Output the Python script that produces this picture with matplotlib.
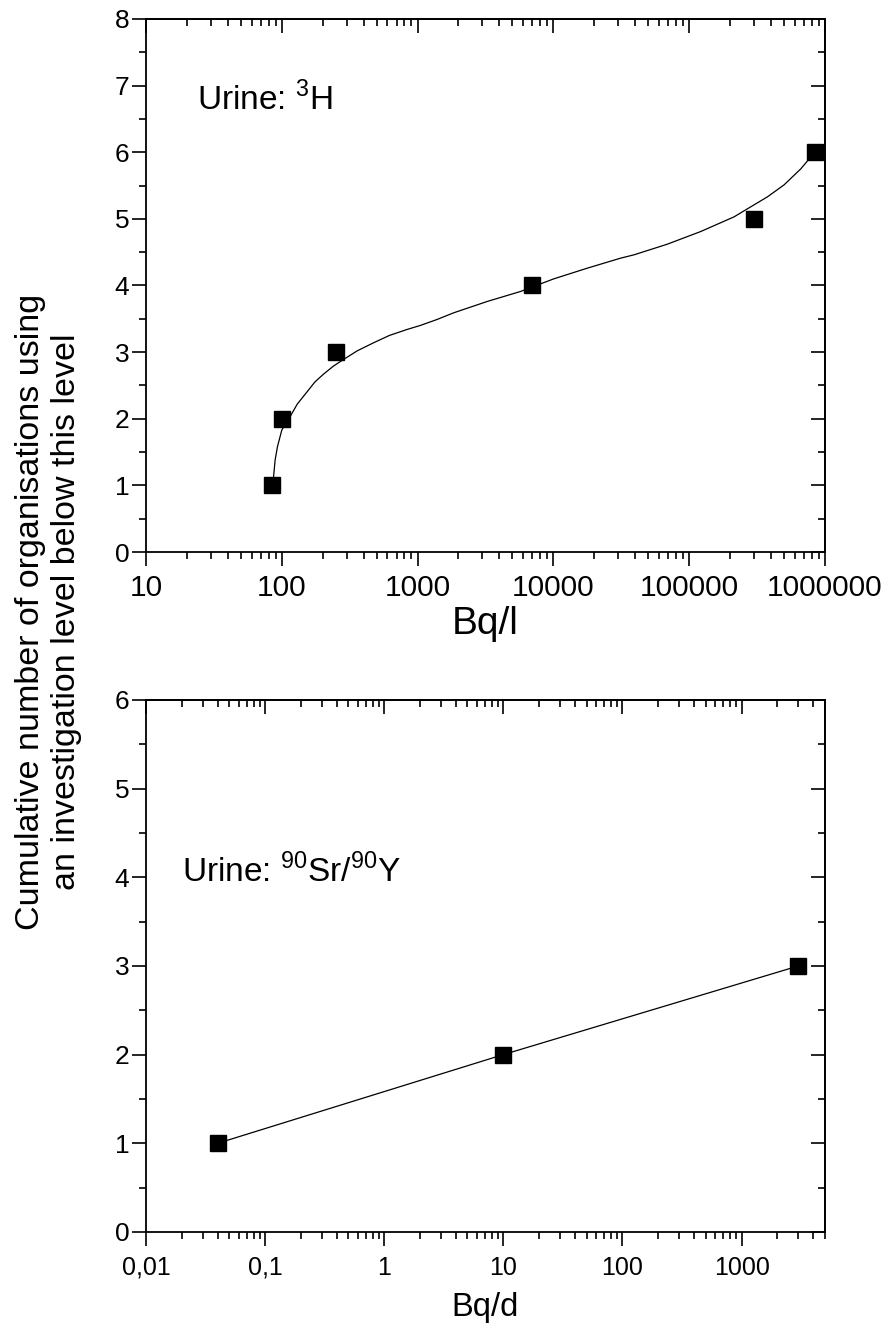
import matplotlib
matplotlib.use("Agg")
import matplotlib.pyplot as plt
from matplotlib.ticker import LogLocator, MultipleLocator, FuncFormatter, NullFormatter

plt.rcParams['font.family'] = ['Liberation Sans', 'DejaVu Sans']
plt.rcParams['mathtext.fontset'] = 'custom'
plt.rcParams['mathtext.rm'] = 'Liberation Sans'

# top panel: urine 3H
h3_x = [85, 100, 250, 7000, 300000, 850000]
h3_y = [1, 2, 3, 4, 5, 6]
# fitted curve
h3_fit_x = [85, 87, 89.3, 92.9, 100, 115, 130, 153, 175, 203, 240, 285, 360,
            474, 620, 837, 1047, 1393, 1845, 3258, 5730, 10090, 17800, 31300,
            39260, 69200, 121900, 214500, 284400, 377600, 501000, 665000,
            774000, 850000]
h3_fit_y = [1.0, 1.13, 1.38, 1.58, 1.83, 2.03, 2.22, 2.40, 2.55, 2.67, 2.79,
            2.89, 3.02, 3.14, 3.25, 3.34, 3.40, 3.49, 3.59, 3.76, 3.91, 4.10,
            4.26, 4.41, 4.46, 4.62, 4.81, 5.03, 5.18, 5.33, 5.51, 5.75, 5.91,
            6.0]

# bottom panel: urine 90Sr/90Y
sr_x = [0.04, 10, 3000]
sr_y = [1, 2, 3]


def style_axes(ax, xlim, ylim, fmt, xsize, ysize, xpad):
    ax.set_xscale('log')
    ax.set_xlim(*xlim)
    ax.set_ylim(*ylim)
    ax.xaxis.set_major_locator(LogLocator(base=10, numticks=20))
    ax.xaxis.set_minor_locator(LogLocator(base=10, subs=range(2, 10), numticks=100))
    ax.xaxis.set_major_formatter(FuncFormatter(fmt))
    ax.xaxis.set_minor_formatter(NullFormatter())
    ax.yaxis.set_major_locator(MultipleLocator(1))
    ax.yaxis.set_minor_locator(MultipleLocator(0.5))
    for s in ax.spines.values():
        s.set_linewidth(1.3)
    ax.tick_params(which='both', direction='out', top=False, right=False, width=1.2)
    ax.tick_params(which='major', length=10)
    ax.tick_params(which='minor', length=5)
    ax.tick_params(axis='x', labelsize=xsize, pad=xpad)
    ax.tick_params(axis='y', labelsize=ysize, pad=2)

    # mirrored ticks point inward
    top = ax.secondary_xaxis('top')
    top.xaxis.set_major_locator(LogLocator(base=10, numticks=20))
    top.xaxis.set_minor_locator(LogLocator(base=10, subs=range(2, 10), numticks=100))
    top.tick_params(which='both', direction='in', labeltop=False, width=1.2)
    top.tick_params(which='major', length=10)
    top.tick_params(which='minor', length=5)
    top.spines['top'].set_linewidth(1.3)
    right = ax.secondary_yaxis('right')
    right.yaxis.set_major_locator(MultipleLocator(1))
    right.yaxis.set_minor_locator(MultipleLocator(0.5))
    right.tick_params(which='both', direction='in', labelright=False, width=1.2)
    right.tick_params(which='major', length=10)
    right.tick_params(which='minor', length=5)
    right.spines['right'].set_linewidth(1.3)


fig = plt.figure(figsize=(8.85, 13.35), dpi=100)
ax1 = fig.add_axes([0.165, 0.5865, 0.767, 0.3993])
ax2 = fig.add_axes([0.165, 0.0772, 0.767, 0.3985])

ax1.plot(h3_fit_x, h3_fit_y, color='black', lw=0.9)
ax1.plot(h3_x, h3_y, 's', color='black', ms=11, clip_on=False)
style_axes(ax1, (10, 1e6), (0, 8), lambda v, _: f"{v:.0f}", 21.5, 19, 6)
ax1.set_xlabel('Bq/l', fontsize=28, labelpad=3)
ax1.text(0.075, 0.8285, r'Urine: $^{\mathregular{3}}$H', transform=ax1.transAxes,
         fontsize=24, va='baseline', ha='left')

ax2.plot(sr_x, sr_y, color='black', lw=0.9)
ax2.plot(sr_x, sr_y, 's', color='black', ms=11, clip_on=False)
style_axes(ax2, (0.01, 5000), (0, 6),
           lambda v, _: ('%g' % v).replace('.', ','), 18, 19, 7)
ax2.set_xlabel('Bq/d', fontsize=23.5, labelpad=9)
ax2.text(0.0526, 0.6585, r'Urine: $^{\mathregular{90}}$Sr/$^{\mathregular{90}}$Y',
         transform=ax2.transAxes, fontsize=24, va='baseline', ha='left')

fig.text(0.055, 0.5416,
         'Cumulative number of organisations using\nan investigation level below this level',
         rotation=90, ha='center', va='center', multialignment='center', fontsize=24.5)

fig.savefig('out.png', dpi=100)
